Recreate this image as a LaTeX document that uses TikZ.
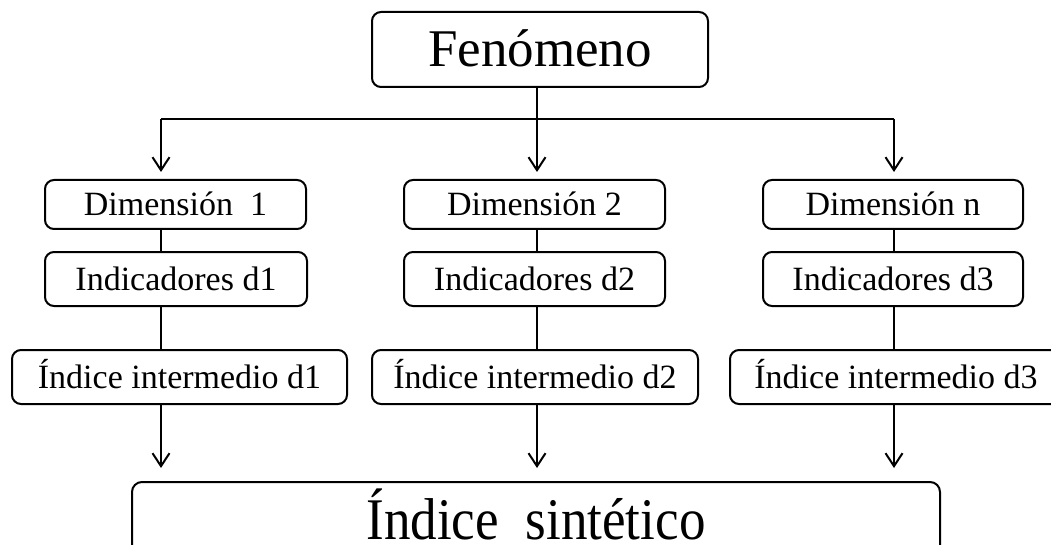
\documentclass[tikz,border=0pt]{standalone}
\usepackage{fontspec}
\setmainfont{Liberation Serif}
\usetikzlibrary{arrows.meta,positioning}

\begin{document}
\begin{tikzpicture}[
  x=1pt, y=-1pt, line width=2pt,
  box/.style={draw,rounded corners=9pt,inner sep=0pt,text height=22.4pt,text depth=0pt,font=\fontsize{34}{40}\selectfont},
  ar/.style={-{Straight Barb[length=13pt,width=17pt]}}
]
\useasboundingbox (0,0) rectangle (1051,545);
\clip (0,0) rectangle (1051,545);

\node[box,minimum width=336pt,minimum height=75pt,text height=35pt,font=\fontsize{53}{60}\selectfont] (fen) at (540,49.5) {Fenómeno};

\node[box,minimum width=261pt,minimum height=49pt] (dim1) at (175.5,204.5) {Dimensión\ \ 1};
\node[box,minimum width=261pt,minimum height=49pt] (dim2) at (534.5,204.5) {Dimensión 2};
\node[box,minimum width=260pt,minimum height=49pt] (dim3) at (893,204.5) {Dimensión n};

\node[box,minimum width=262pt,minimum height=54pt] (ind1) at (176,279) {Indicadores d1};
\node[box,minimum width=261pt,minimum height=54pt] (ind2) at (534.5,279) {Indicadores d2};
\node[box,minimum width=260pt,minimum height=54pt] (ind3) at (893,279) {Indicadores d3};

\node[box,minimum width=335pt,minimum height=54pt] (int1) at (179.5,377) {Índice intermedio d1};
\node[box,minimum width=326pt,minimum height=54pt] (int2) at (535,377) {Índice intermedio d2};
\node[box,minimum width=332pt,minimum height=54pt] (int3) at (896,377) {Índice intermedio d3};

\node[box,anchor=north,minimum width=808pt,rounded corners=10pt,text height=57pt,text depth=70pt,font=\fontsize{59}{66}\selectfont] (syn) at (536,481) {\scalebox{0.9}[1]{Índice\ \ sintético}};

\coordinate (c1) at (161,119);
\coordinate (c2) at (537,119);
\coordinate (c3) at (894,119);

\draw (fen.south -| c2) -- (c2);
\draw (c1) -- (c3);
\foreach \i in {1,2,3}{
  \draw[ar,shorten >=7pt] (c\i) -- (dim\i.north -| c\i);
  \draw (dim\i.south -| c\i) -- (ind\i.north -| c\i);
  \draw (ind\i.south -| c\i) -- (int\i.north -| c\i);
  \draw[ar,shorten >=13pt] (int\i.south -| c\i) -- (syn.north -| c\i);
}
\end{tikzpicture}
\end{document}
